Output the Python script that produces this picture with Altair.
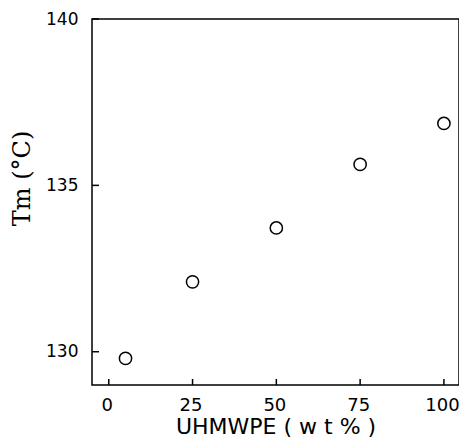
import altair as alt
import pandas as pd

uhmwpe = [5, 25, 50, 75, 100]
tm = [129.8, 132.1, 133.72, 135.63, 136.86]
x_ticks = [0, 25, 50, 75, 100]
y_ticks = [130, 135, 140]

W, H = 367, 366

pts = pd.DataFrame({"x": uhmwpe, "y": tm})
xt = pd.DataFrame({"x": x_ticks})
yt = pd.DataFrame({"y": y_ticks})

xscale = alt.Scale(domain=[-5, 104.5], nice=False, zero=False)
yscale = alt.Scale(domain=[129, 140], nice=False, zero=False)

FONT = "DejaVu Sans"

xaxis = alt.Axis(values=x_ticks, ticks=False, domain=False, grid=False,
                 labelFontSize=18, labelFont=FONT, labelColor="black",
                 labelPadding=11, labelOffset=-2,
                 title="UHMWPE ( w t % )", titleFont=FONT,
                 titleFontSize=22, titleFontWeight="normal", titleColor="black",
                 titleBaseline="bottom", titleY=53)
yaxis = alt.Axis(values=y_ticks, ticks=False, domain=False, grid=False,
                 labelFontSize=17, labelFont=FONT, labelColor="black",
                 labelPadding=14, title="Tm (°C)", titleFont="DejaVu Serif",
                 titleFontSize=24, titleFontWeight="normal", titleColor="black",
                 titleAngle=270, titleX=-70, titleY=159, titleAlign="center",
                 titleBaseline="middle")

points = alt.Chart(pts).mark_point(shape="circle", filled=False, color="black",
                                   size=150, strokeWidth=1.5, opacity=1).encode(
    x=alt.X("x:Q", scale=xscale, axis=xaxis),
    y=alt.Y("y:Q", scale=yscale, axis=yaxis),
)

xticks = alt.Chart(xt).mark_rule(color="black", strokeWidth=1.5).encode(
    x=alt.X("x:Q", scale=xscale),
    y=alt.value(H), y2=alt.value(H - 6),
)
yticks = alt.Chart(yt).mark_rule(color="black", strokeWidth=1.5).encode(
    y=alt.Y("y:Q", scale=yscale),
    x=alt.value(0), x2=alt.value(7),
)

chart = alt.layer(points, xticks, yticks).properties(
    width=W, height=H,
    autosize=alt.AutoSizeParams(type="none"),
    padding={"left": 84, "top": 11, "right": 0, "bottom": 52},
    background="white",
).configure_view(stroke="black", strokeWidth=1.5)

chart.save("out.html", embed_options={"renderer": "svg", "actions": False})
